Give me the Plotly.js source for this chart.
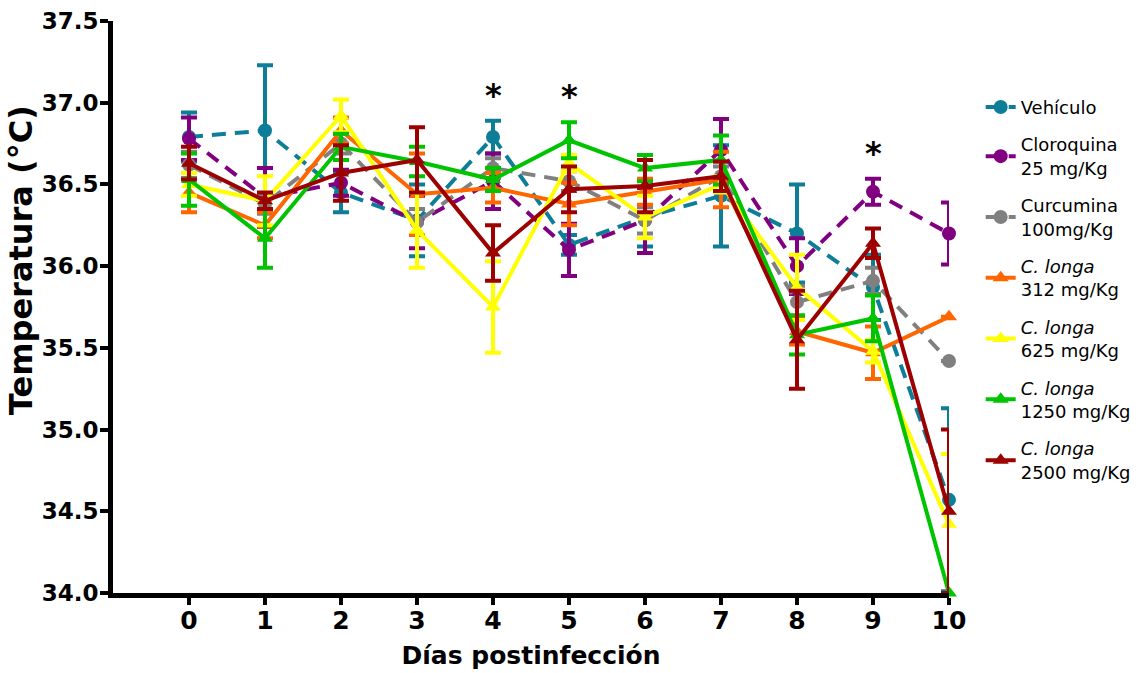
<!DOCTYPE html>
<html>
<head>
<meta charset="utf-8">
<script src="https://cdn.plot.ly/plotly-3.0.1.min.js"></script>
<style>
  html, body { margin: 0; padding: 0; background: #ffffff; }
  #chart { width: 1143px; height: 673px; }
</style>
</head>
<body>
<div id="chart"></div>
<script>
// Días postinfección
const days = [0, 1, 2, 3, 4, 5, 6, 7, 8, 9, 10];

// Temperatura media (°C) y error estándar por grupo
const vehiculo      = [36.79, 36.83, 36.45, 36.28, 36.79, 36.13, 36.30, 36.43, 36.20, 35.87, 34.57];
const vehiculoErr   = [0.15, 0.40, 0.12, 0.22, 0.10, 0.06, 0.18, 0.31, 0.30, 0.20, 0.56];

const cloroquina    = [36.78, 36.42, 36.51, 36.27, 36.52, 36.10, 36.28, 36.71, 36.00, 36.455, 36.20];
const cloroquinaErr = [0.13, 0.18, 0.08, 0.16, 0.17, 0.16, 0.20, 0.19, 0.17, 0.08, 0.19];

const curcumina     = [36.62, 36.38, 36.75, 36.27, 36.60, 36.52, 36.28, 36.55, 35.78, 35.91, 35.42];
const curcuminaErr  = [0.08, 0.06, 0.06, 0.08, 0.06, 0.06, 0.08, 0.06, 0.10, 0.08, null];

const longa312      = [36.45, 36.25, 36.83, 36.44, 36.48, 36.38, 36.455, 36.53, 35.60, 35.47, 35.69];
const longa312Err   = [0.12, 0.08, 0.08, 0.25, 0.09, 0.13, 0.08, 0.17, 0.08, 0.16, null];

const longa625      = [36.50, 36.40, 36.92, 36.22, 35.75, 36.63, 36.30, 36.50, 35.87, 35.48, 34.42];
const longa625Err   = [0.07, 0.15, 0.10, 0.23, 0.28, 0.05, 0.13, 0.05, 0.20, 0.07, 0.43];

const longa1250     = [36.53, 36.17, 36.73, 36.64, 36.53, 36.77, 36.60, 36.65, 35.58, 35.68, 34.00];
const longa1250Err  = [0.16, 0.18, 0.08, 0.09, 0.07, 0.11, 0.08, 0.15, 0.12, 0.14, null];

const longa2500     = [36.63, 36.40, 36.57, 36.65, 36.08, 36.47, 36.49, 36.55, 35.55, 36.14, 34.50];
const longa2500Err  = [0.10, 0.05, 0.17, 0.20, 0.17, 0.14, 0.16, 0.09, 0.30, 0.09, 0.50];

// Días con diferencia significativa
const significantDays = [4, 5, 9];

const yTicks = [34.0, 34.5, 35.0, 35.5, 36.0, 36.5, 37.0, 37.5];

const groups = [
  { name: 'Vehículo',                        y: vehiculo,   err: vehiculoErr,   color: '#0e7e98', symbol: 'circle',      dash: '14px,9px' },
  { name: 'Cloroquina<br>25 mg/Kg',          y: cloroquina, err: cloroquinaErr, color: '#800080', symbol: 'circle',      dash: '14px,9px' },
  { name: 'Curcumina<br>100mg/Kg',           y: curcumina,  err: curcuminaErr,  color: '#808080', symbol: 'circle',      dash: '14px,9px' },
  { name: '<i>C. longa</i><br>312 mg/Kg',    y: longa312,   err: longa312Err,   color: '#ff6600', symbol: 'triangle-up', dash: 'solid' },
  { name: '<i>C. longa</i><br>625 mg/Kg',    y: longa625,   err: longa625Err,   color: '#ffff00', symbol: 'triangle-up', dash: 'solid' },
  { name: '<i>C. longa</i><br>1250 mg/Kg',   y: longa1250,  err: longa1250Err,  color: '#00c400', symbol: 'triangle-up', dash: 'solid' },
  { name: '<i>C. longa</i><br>2500 mg/Kg',   y: longa2500,  err: longa2500Err,  color: '#9c0000', symbol: 'triangle-up', dash: 'solid' }
];

const traces = groups.map((g, i) => ({
  type: 'scatter',
  mode: 'lines+markers',
  name: g.name,
  legendgroup: 'g' + i,
  x: days,
  y: g.y,
  cliponaxis: false,
  line: { color: g.color, width: 4, dash: g.dash },
  marker: { color: g.color, symbol: g.symbol, size: 14 },
  error_y: { type: 'data', array: g.err, visible: true, color: g.color, thickness: 4, width: 8 }
}));

// Asteriscos sobre la barra de error más alta de cada día significativo
const stars = significantDays.map(d => {
  const idx = days.indexOf(d);
  let top = -Infinity;
  groups.forEach(g => {
    const e = g.err[idx] || 0;
    top = Math.max(top, g.y[idx] + e);
  });
  return {
    x: d, y: top, xref: 'x', yref: 'y',
    text: '*', showarrow: false,
    yanchor: 'middle', yshift: 26,
    font: { family: 'DejaVu Sans', size: 32, color: '#000000', weight: 700 }
  };
});

const annotations = stars.concat([{
  text: 'Temperatura (°C)',
  xref: 'paper', yref: 'paper',
  x: -0.11, y: 0.582,
  xanchor: 'center', yanchor: 'middle',
  textangle: -90, showarrow: false,
  font: { family: 'DejaVu Sans', size: 32, color: '#000000', weight: 700 }
}]);

const layout = {
  width: 1143,
  height: 673,
  margin: { l: 113, r: 194, t: 21, b: 80 },
  paper_bgcolor: '#ffffff',
  plot_bgcolor: '#ffffff',
  showlegend: true,
  legend: {
    xref: 'container', yref: 'container',
    x: 0.858, xanchor: 'left',
    y: 0.868, yanchor: 'top',
    maxheight: 560,
    font: { family: 'DejaVu Sans', size: 18, color: '#000000' },
    tracegroupgap: 11,
    bgcolor: 'rgba(0,0,0,0)'
  },
  xaxis: {
    range: [-1, 10],
    tickvals: days,
    ticktext: days.map(String),
    showgrid: false,
    zeroline: false,
    showline: true,
    linecolor: '#000000',
    linewidth: 5,
    ticks: 'outside',
    ticklen: 7,
    tickwidth: 4,
    tickcolor: '#000000',
    ticklabelstandoff: -6,
    tickfont: { family: 'DejaVu Sans', size: 25, color: '#000000', weight: 700 },
    title: {
      text: 'Días postinfección',
      standoff: 14,
      font: { family: 'DejaVu Sans', size: 25, color: '#000000', weight: 700 }
    }
  },
  yaxis: {
    range: [34.0, 37.5],
    tickvals: yTicks,
    ticktext: yTicks.map(v => v.toFixed(1)),
    showgrid: false,
    zeroline: false,
    showline: true,
    linecolor: '#000000',
    linewidth: 5,
    ticks: 'outside',
    ticklen: 8,
    tickwidth: 4,
    tickcolor: '#000000',
    ticklabelstandoff: -3,
    tickfont: { family: 'DejaVu Sans', size: 23, color: '#000000', weight: 700 }
  },
  annotations: annotations
};

Plotly.newPlot('chart', traces, layout, { displayModeBar: false, staticPlot: true });
</script>
</body>
</html>
